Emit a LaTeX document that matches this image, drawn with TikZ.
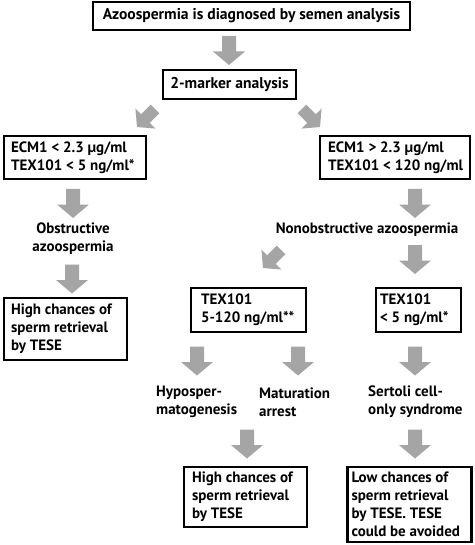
\documentclass[tikz,border=0pt]{standalone}
\usepackage{fontspec}
\setmainfont{PT Sans}
\definecolor{arrowgray}{RGB}{165,165,165}
\tikzset{
  box/.style={draw=black, line width=2.4pt, inner sep=0pt},
  lbl/.style={inner sep=0pt, font=\fontsize{15}{18}\selectfont\bfseries},
  ltext/.style={lbl, align=left, anchor=west},
  garrow/.pic={\fill[arrowgray] (-7,-14.5) -- (-7,1) -- (-16,1) -- (0,14.5) -- (16,1) -- (7,1) -- (7,-14.5) -- cycle;},
}
\begin{document}
\begin{tikzpicture}[x=1pt,y=-1pt]
\useasboundingbox (0,0) rectangle (474,545);
% boxes
\node[box, minimum width=317pt, minimum height=28pt, font=\fontsize{15.6}{18}\selectfont\bfseries] (b1) at (251.5,16) {Azoospermia is diagnosed by semen analysis};
\node[box, minimum width=133pt, minimum height=29pt, font=\fontsize{15.6}{18}\selectfont\bfseries] (b2) at (229.5,84.5) {2-marker analysis};
\node[box, minimum width=142pt, minimum height=43pt] (bl) at (75,157.5) {};
\node[ltext] (blt) at ([xshift=8pt]bl.west) {ECM1 < 2.3 µg/ml\\TEX101 < 5 ng/ml*};
\node[box, minimum width=150pt, minimum height=43pt] (br) at (395,157.5) {};
\node[ltext] (brt) at ([xshift=9pt]br.west) {ECM1 > 2.3 µg/ml\\TEX101 < 120 ng/ml};
\node[box, minimum width=123pt, minimum height=62pt] (bhl) at (65.5,329) {};
\node[ltext] (bhlt) at ([xshift=8pt]bhl.west) {High chances of\\sperm retrieval\\by TESE};
\node[box, minimum width=115pt, minimum height=44pt] (bm) at (248.5,310) {};
\node[ltext] (bmt) at ([xshift=11pt]bm.west) {TEX101\\5-120 ng/ml**};
\node[box, minimum width=85pt, minimum height=44pt] (brr) at (418.5,310) {};
\node[ltext] (brrt) at ([xshift=5pt]brr.west) {TEX101\\< 5 ng/ml*};
\node[box, minimum width=123pt, minimum height=60pt] (bhm) at (245.5,497) {};
\node[ltext] (bhmt) at ([xshift=9pt]bhm.west) {High chances of\\sperm retrieval\\by TESE};
\node[box, minimum width=124pt, minimum height=75pt] (blow) at (409.5,504.5) {};
\node[ltext] (blowt) at ([xshift=5pt]blow.west) {Low chances of\\sperm retrieval\\by TESE. TESE\\could be avoided};
% labels
\node[lbl, align=center] (obs) at (73,239) {Obstructive\\azoospermia};
\node[lbl] (nonobs) at (367,230) {Nonobstructive azoospermia};
\node[ltext] (hypo) at (156,402) {Hyposper-\\matogenesis};
\node[ltext] (mat) at (259,402) {Maturation\\arrest};
\node[ltext] (sert) at (368,402) {Sertoli cell-\\only syndrome};
% arrows
\pic at (229,50.5) {garrow};
\pic[scale=0.88,rotate=-45] at (146,118) {garrow};
\pic[scale=0.88,rotate=45] at (311,118) {garrow};
\pic at (73,203.5) {garrow};
\pic at (72,279) {garrow};
\pic at (415,203.5) {garrow};
\pic at (415,259.5) {garrow};
\pic[scale=0.88,rotate=-45] at (272,259) {garrow};
\pic at (197,361) {garrow};
\pic at (298,361) {garrow};
\pic at (415,361) {garrow};
\pic at (247,444) {garrow};
\pic at (415,444) {garrow};
\end{tikzpicture}
\end{document}
